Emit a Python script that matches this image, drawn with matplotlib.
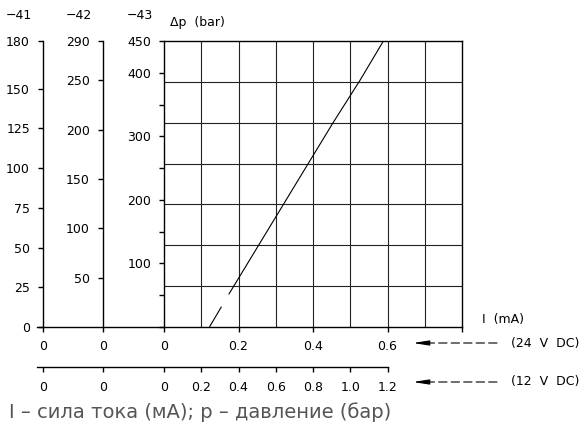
import numpy as np
import matplotlib
matplotlib.use('Agg')
import matplotlib.pyplot as plt

plt.rcParams['font.family'] = ['DejaVu Sans']
plt.rcParams['lines.scale_dashes'] = False

# current at 24 V DC (mA) vs differential pressure (bar), scale -43
cur_24 = [0.122, 0.1745, 0.387, 0.4545, 0.526, 0.589]
dp_43 = [0, 52, 257, 322, 388, 450]

x_ticks_24 = [0, 0.2, 0.4, 0.6, 0.8]
x_labels_24 = ['0', '0.2', '0.4', '0.6', '']
x_ticks_12 = [0, 0.2, 0.4, 0.6, 0.8, 1.0, 1.2]
x_labels_12 = ['0', '0.2', '0.4', '0.6', '0.8', '1.0', '1.2']
y_ticks_41 = [0, 25, 50, 75, 100, 125, 150, 180]
y_ticks_42 = [50, 100, 150, 200, 250, 290]
y_ticks_43 = [0, 50, 100, 150, 200, 250, 300, 350, 400, 450]
y_labels_43 = ['', '', '100', '', '200', '', '300', '', '400', '450']
y_max = {'41': 180, '42': 290, '43': 450}

# where the extra pressure scales sit on the current axis
X41, X42, XMIN = -0.325, -0.164, -0.34
FS = 9
LW = 1.0

fig = plt.figure(figsize=(5.82, 4.28), dpi=100)
ax = fig.add_axes([37.35/582, 101/428, (462-37.35)/582, 286/428])
ax.set_xlim(XMIN, 0.8)
ax.set_ylim(0, y_max['43'])

# grid box
ax.vlines(np.arange(0.1, 0.75, 0.1), 0, y_max['43'], color='#222222', lw=0.8)
ax.hlines(np.linspace(0, y_max['43'], 8)[1:-1], 0, 0.8, color='#222222', lw=0.8)
for s in ax.spines.values():
    s.set_linewidth(LW)
ax.spines['left'].set_position(('data', 0))
ax.spines['top'].set_bounds(0, 0.8)

ax.plot(cur_24[:2], dp_43[:2], color='k', lw=0.8, dashes=(17, 11))
ax.plot(cur_24[1:], dp_43[1:], color='k', lw=0.8)

ax.set_xticks([X41, X42] + x_ticks_24)
ax.set_xticklabels(['0', '0'] + x_labels_24)
ax.set_yticks(y_ticks_43)
ax.set_yticklabels(y_labels_43)
ax.tick_params(direction='out', length=3.8, width=LW, labelsize=FS)
ax.tick_params(axis='x', pad=5.5)
ax.tick_params(axis='y', pad=5.5)

for name, xpos, ticks in [('41', X41, y_ticks_41), ('42', X42, y_ticks_42)]:
    t = ax.twinx()
    t.set_ylim(0, y_max[name])
    t.yaxis.tick_left()
    for k in ['right', 'top', 'bottom']:
        t.spines[k].set_visible(False)
    t.spines['left'].set_position(('data', xpos))
    t.spines['left'].set_linewidth(LW)
    t.set_yticks(ticks)
    t.tick_params(direction='out', length=3.8, width=LW, labelsize=FS, pad=5.5)
    t.annotate('\u2212' + name, xy=(xpos, 1), xycoords=('data', 'axes fraction'),
               xytext=(-17.5, 18.7), textcoords='offset points',
               ha='center', va='center', fontsize=FS)
ax.annotate('\u221243', xy=(0, 1), xycoords=('data', 'axes fraction'),
            xytext=(-17.5, 18.7), textcoords='offset points',
            ha='center', va='center', fontsize=FS)

# 12 V DC current scale
sec = ax.secondary_xaxis(-40/286, functions=(lambda x: 2*x, lambda x: x/2))
sec.set_xticks([2*X41, 2*X42] + x_ticks_12)
sec.set_xticklabels(['0', '0'] + x_labels_12)
sec.spines['bottom'].set_bounds(2*XMIN, 1.2)
sec.spines['bottom'].set_linewidth(LW)
sec.tick_params(direction='out', length=3.8, width=LW, labelsize=FS, pad=6.5)

ax.annotate('\u0394p  (bar)', xy=(0, y_max['43']), xytext=(4.3, 13.5),
            textcoords='offset points', ha='left', va='center', fontsize=FS)
ax.annotate('I  (mA)', xy=(0.8, 0), xytext=(14.5, 5.5),
            textcoords='offset points', ha='left', va='center', fontsize=FS)

for y, lab in [(85, '(24  V  DC)'), (46, '(12  V  DC)')]:
    ax.annotate('', xy=(426, y), xytext=(497, y), xycoords='figure pixels',
                arrowprops=dict(arrowstyle='-', lw=0.8, ls=(0, (6, 3)),
                                shrinkA=0, shrinkB=0))
    ax.annotate('', xy=(413, y), xytext=(428, y), xycoords='figure pixels',
                arrowprops=dict(arrowstyle='-|>,head_length=0.95,head_width=0.15',
                                lw=0.8, fc='k', mutation_scale=10,
                                shrinkA=0, shrinkB=0))
    ax.annotate(lab, xy=(511, y), xycoords='figure pixels',
                ha='left', va='center', fontsize=FS)

fig.text(9/582, 16/428, 'I \u2013 сила тока (мА); р \u2013 давление (бар)',
         fontsize=14, color='#555555', ha='left', va='center')

fig.savefig('out.png', dpi=100)
